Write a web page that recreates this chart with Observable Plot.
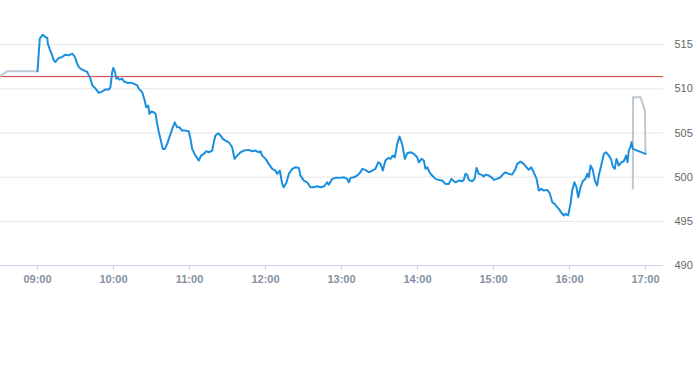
<!DOCTYPE html>
<html><head><meta charset="utf-8">
<script src="https://cdn.jsdelivr.net/npm/d3@7"></script>
<script src="https://cdn.jsdelivr.net/npm/@observablehq/plot@0.6"></script>
<style>body{margin:0;background:#fff;font-family:"Liberation Sans",Arial,sans-serif}</style>
</head><body><div id="chart"></div>
<script>
// minutes after 09:00 and prices of the regular session
const sessionMinutes = [0,1.8,4.2,6.1,7.7,8.1,9.5,11.1,12.9,14.2,16.8,19.5,22.1,24.7,27.4,28.7,30.0,31.3,32.6,33.9,36.6,39.2,40.5,41.8,43.2,45.8,48.4,51.1,53.7,56.3,57.6,59.0,59.8,60.8,62.4,63.4,65.0,66.9,68.1,70.8,73.4,76.0,78.7,80.0,82.7,84.7,85.8,87.4,88.4,90.0,91.8,93.2,94.5,95.8,97.1,98.9,100.5,102.4,105.0,106.8,108.4,110.3,112.1,114.2,116.8,119.4,120.8,122.1,124.7,127.3,129.2,131.3,133.2,135.2,137.9,139.2,140.5,142.7,144.5,146.3,148.4,151.0,153.7,155.5,157.7,160.3,162.9,166.8,169.5,172.1,174.7,176.1,177.4,180.0,182.6,185.3,187.9,189.2,191.3,193.2,194.4,196.6,198.4,201.1,203.7,206.3,207.6,210.2,212.9,215.5,218.1,220.8,223.4,226.0,228.7,230.0,232.7,235.3,239.2,241.8,244.5,245.8,247.1,249.7,252.4,255.0,256.3,258.9,261.6,264.2,266.8,269.0,270.8,272.6,274.7,276.9,278.7,280.5,282.1,284.0,285.8,287.4,288.4,290.0,291.9,294.5,297.1,299.8,301.0,303.2,305.0,306.3,307.7,309.5,311.6,314.2,316.8,319.5,322.1,324.7,326.8,328.7,330.0,332.6,335.3,336.5,337.9,339.2,340.5,343.2,345.0,346.6,348.4,350.3,352.3,353.7,356.3,359.0,360.2,362.9,365.5,367.7,369.5,372.1,374.8,377.4,378.7,381.3,383.9,386.1,387.9,389.8,391.8,394.0,395.8,397.7,399.7,402.4,404.4,406.4,408.2,410.3,411.6,414.2,415.5,416.8,418.9,420.8,422.1,423.9,425.5,426.9,428.7,430.5,432.6,434.0,435.2,436.6,438.4,440.0,441.8,443.1,445.3,447.1,449.0,451.0,452.9,454.2,455.7,457.1,458.9,461.0,462.8,464.7,465.8,466.8,468.2,468.9,470.0,480.0];
const sessionPrices = [511.98,515.68,516.13,515.87,515.76,515.11,514.55,513.98,513.22,513.04,513.50,513.61,513.87,513.79,513.98,513.79,513.42,512.85,512.48,512.28,512.09,511.91,511.53,511.15,510.40,510.02,509.54,509.72,509.94,509.91,510.21,511.91,512.36,512.09,511.15,511.23,511.04,511.15,510.85,510.67,510.70,510.59,510.40,510.02,509.60,508.66,507.91,508.10,507.16,507.45,507.34,507.16,506.03,505.08,504.33,503.20,503.20,503.77,504.90,505.64,506.21,505.64,505.64,505.27,505.27,505.19,504.33,503.20,502.44,501.88,502.44,502.64,502.93,502.82,503.01,503.95,504.71,504.97,504.71,504.33,504.14,503.95,503.38,502.07,502.44,502.82,503.01,503.09,502.93,503.01,502.82,502.93,502.44,502.07,501.50,500.94,500.75,500.37,500.75,499.24,498.86,499.42,500.37,500.94,501.12,501.05,500.18,499.62,499.42,498.86,498.86,498.97,498.86,498.94,499.42,499.16,499.81,499.92,499.92,499.99,499.81,499.42,499.92,499.99,500.18,500.55,500.94,500.83,500.55,500.75,500.94,501.69,501.50,500.75,501.88,502.18,502.07,502.44,502.25,503.77,504.59,503.95,503.38,502.07,502.70,502.82,502.64,502.25,501.69,502.07,501.88,500.94,501.12,500.55,500.18,499.81,499.69,499.62,499.24,499.24,499.81,499.54,499.42,499.62,499.54,499.69,500.37,500.29,499.69,499.54,499.81,501.05,500.37,500.29,500.07,500.29,500.18,499.92,499.69,499.81,499.99,500.37,500.55,500.37,500.29,500.94,501.50,501.76,501.50,501.12,500.83,501.12,500.55,499.81,498.48,498.68,498.48,498.56,498.18,497.16,496.98,496.60,496.41,495.85,495.66,495.85,495.66,496.98,498.48,499.42,498.86,497.73,498.86,499.54,499.81,500.37,499.99,501.31,500.83,499.62,499.05,500.18,501.50,502.64,502.82,502.44,501.96,501.20,500.94,502.07,501.31,501.69,501.80,502.44,501.69,503.01,503.46,503.95,503.20,502.64];
// pre-market and after-hours (grey)
const preMinutes = [-29.2, -23.9, 0];
const prePrices = [511.49, 511.98, 511.98];
const afterMinutes = [470.0, 470.2, 476.1, 479.5, 480.0];
const afterPrices = [498.68, 509.04, 509.04, 507.53, 502.64];
const previousClose = 511.38;
const priceTicks = [490, 495, 500, 505, 510, 515];
const timeTickLabels = ["09:00","10:00","11:00","12:00","13:00","14:00","15:00","16:00","17:00"];

const base = new Date(2024, 0, 2, 9, 0, 0).getTime();
const toDate = m => new Date(base + m * 60000);
const rows = (ms, ps) => ms.map((m, i) => ({t: toDate(m), p: ps[i]}));
const session = rows(sessionMinutes, sessionPrices);
const pre = rows(preMinutes, prePrices);
const after = rows(afterMinutes, afterPrices);
const tickDates = timeTickLabels.map(s => { const [h, mm] = s.split(":").map(Number); return new Date(2024, 0, 2, h, mm, 0); });

const chart = Plot.plot({
  width: 693, height: 365,
  marginTop: 0, marginBottom: 100, marginLeft: 0, marginRight: 30,
  style: {fontSize: "11px", fontFamily: "'Liberation Sans', Arial, sans-serif", background: "#fff"},
  x: {type: "time", domain: [toDate(-29.21), toDate(494.21)], label: null},
  y: {domain: [490, 520], label: null},
  marks: [
    Plot.ruleY(priceTicks.filter(v => v > 490), {stroke: "#e6e6e6", strokeWidth: 1}),
    Plot.ruleY([490], {stroke: "#ccd6eb", strokeWidth: 1}),
    Plot.axisX({ticks: tickDates, tickFormat: d3.timeFormat("%H:%M"), tickSize: 5, tickPadding: 5, stroke: "#ccd6eb", fill: "#8591a0", fontWeight: "bold", label: null}),
    Plot.axisY({anchor: "right", ticks: priceTicks, tickSize: 0, tickPadding: 11, fill: "#666666", textAnchor: "start", label: null}),
    Plot.ruleY([previousClose], {stroke: "#d63a33", strokeWidth: 1}),
    Plot.line(pre, {x: "t", y: "p", stroke: "#bcc8d3", strokeWidth: 2}),
    Plot.line(after, {x: "t", y: "p", stroke: "#bcc8d3", strokeWidth: 2}),
    Plot.line(session, {x: "t", y: "p", stroke: "#1a8fdf", strokeWidth: 2})
  ]
});
document.getElementById("chart").appendChild(chart);
</script>
</body></html>
